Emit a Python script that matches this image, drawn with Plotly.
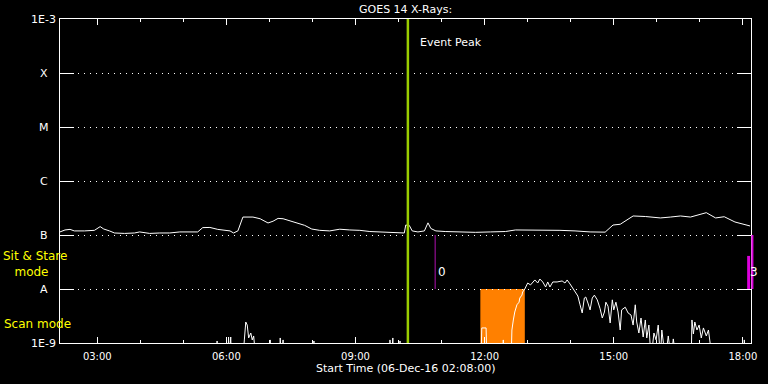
import plotly.graph_objects as go

DAY = "2016-12-06 "
FLOOR = 5e-10  # below plot floor (clipped at 1E-9)

# Long channel (upper trace)
up_t = ["02:08","02:15","02:22","02:28","02:42","02:56","03:04","03:09","03:17","03:24",
        "03:38","03:52","03:59","04:13","04:27","04:41","04:55","05:09","05:20","05:27",
        "05:37","05:48","05:58","06:05","06:10","06:16","06:23","06:30","06:37","06:47",
        "06:58","07:05","07:12","07:19","07:29","07:38","07:49","07:59","08:10","08:24",
        "08:38","08:52","09:06","09:20","09:34","09:55","10:08","10:10","10:15","10:19",
        "10:27","10:36","10:41","10:45","10:52","11:05","11:26","11:47","12:08","12:29",
        "12:43","13:03","13:24","13:45","14:06","14:27","14:48","14:59","15:09","15:27",
        "15:44","16:05","16:19","16:33","16:47","17:01","17:09","17:22","17:34","17:49",
        "18:03","18:10"]
up_v = [1.14e-7,1.24e-7,1.27e-7,1.19e-7,1.19e-7,1.22e-7,1.43e-7,1.29e-7,1.19e-7,1.09e-7,
        1.07e-7,1.09e-7,1.14e-7,1.07e-7,1.09e-7,1.09e-7,1.14e-7,1.16e-7,1.14e-7,1.37e-7,
        1.38e-7,1.27e-7,1.22e-7,1.19e-7,1.09e-7,1.19e-7,2.15e-7,2.18e-7,2.15e-7,2.00e-7,
        1.67e-7,1.80e-7,2.03e-7,2.00e-7,1.82e-7,1.68e-7,1.51e-7,1.29e-7,1.22e-7,1.19e-7,
        1.28e-7,1.24e-7,1.22e-7,1.16e-7,1.14e-7,1.09e-7,1.09e-7,1.53e-7,1.50e-7,1.19e-7,
        1.14e-7,1.19e-7,1.68e-7,1.32e-7,1.19e-7,1.16e-7,1.14e-7,1.12e-7,1.14e-7,1.16e-7,
        1.24e-7,1.24e-7,1.22e-7,1.22e-7,1.19e-7,1.14e-7,1.13e-7,1.53e-7,1.58e-7,2.25e-7,
        2.20e-7,2.07e-7,2.15e-7,2.25e-7,2.15e-7,2.45e-7,2.59e-7,2.07e-7,2.18e-7,1.74e-7,
        1.53e-7,1.47e-7]

# Short channel (lower trace)
F = FLOOR
lo_t = ["02:08","05:46","05:47","05:48","06:02","06:03","06:04","06:06","06:07",
        "06:23","06:25","06:27","06:29","06:31","06:34","06:36","06:38","06:41",
        "07:00","07:01","07:02","07:14","07:15","07:17","07:19","07:20",
        "08:01","08:02","08:03","09:47","09:48","09:50","09:52","09:53",
        "10:01","10:02","10:03","11:55","11:56","12:02","12:03",
        "12:25","12:26","12:27","12:37","12:38","12:40","12:42","12:45","12:48",
        "12:49","12:52","12:53","12:56","13:00","13:04","13:10","13:14","13:17",
        "13:21","13:25","13:28","13:31","13:35","13:41","13:48","13:52","13:55",
        "13:59","14:03","14:06","14:10","14:13","14:16","14:19","14:21","14:24",
        "14:27","14:30","14:33","14:37","14:41","14:44","14:47","14:49","14:52",
        "14:55","14:58","15:00","15:03","15:06","15:09","15:11","15:16","15:20",
        "15:24","15:27","15:30","15:32","15:35","15:38","15:41","15:44","15:46",
        "15:49","15:52","15:56","15:59","16:02","16:05","16:07","16:12","16:16",
        "16:20","16:23","16:27","16:48","16:49","16:51","16:53","16:56","16:59",
        "17:02","17:05","17:09","17:12","17:14","17:17","18:01","18:02","18:03",
        "18:11"]
lo_v = [F,F,1.09e-9,F,F,1.29e-9,F,1.29e-9,F,
        F,1.14e-9,2.45e-9,2.15e-9,1.24e-9,1.53e-9,1.14e-9,1.35e-9,F,
        F,1.14e-9,F,F,1.24e-9,F,1.14e-9,F,
        F,1.09e-9,F,F,1.14e-9,F,1.24e-9,F,
        F,1.09e-9,F,F,1.9e-9,1.9e-9,F,
        F,1.14e-9,F,F,1.74e-9,2.67e-9,3.75e-9,5.1e-9,5.7e-9,
        6.8e-9,7.7e-9,8.8e-9,1.0e-8,1.29e-8,1.19e-8,1.47e-8,1.29e-8,1.53e-8,
        1.35e-8,1.09e-8,1.35e-8,1.09e-8,1.35e-8,1.35e-8,1.41e-8,1.29e-8,1.47e-8,
        1.24e-8,1.04e-8,8.8e-9,7.4e-9,5.1e-9,3.6e-9,6.8e-9,7.1e-9,5.5e-9,
        4.1e-9,6.8e-9,7.7e-9,6.3e-9,4.3e-9,2.9e-9,3.75e-9,5.7e-9,4.8e-9,
        2.35e-9,6.3e-9,4.1e-9,5.7e-9,3.75e-9,1.74e-9,4.1e-9,4.6e-9,3.6e-9,
        3.3e-9,2.15e-9,5.1e-9,2.45e-9,1.53e-9,2.9e-9,1.29e-9,2.67e-9,1.24e-9,
        2.15e-9,F,1.53e-9,1.14e-9,2.15e-9,F,1.74e-9,F,1.35e-9,
        F,1.19e-9,F,F,2.67e-9,1.47e-9,2.45e-9,1.74e-9,2.15e-9,
        1.24e-9,1.9e-9,1.35e-9,1.74e-9,1.09e-9,F,F,1.14e-9,F,
        F]

level_vals = [1e-9, 1e-8, 1e-7, 1e-6, 1e-5, 1e-4, 1e-3]
level_text = ["1E-9", "A", "B", "C", "M", "X", "1E-3"]
level_exp = [-9, -8, -7, -6, -5, -4, -3]

event_peak = "10:13"
scan_start, scan_end = "11:54", "12:56"
mark0_t = "10:51"
mark2_t0, mark2_t1 = "18:06", "18:10"
x_start, x_end = "02:08:00", "18:11:20"

FONT = "DejaVu Sans"

fig = go.Figure()
fig.add_trace(go.Scatter(x=[DAY + t for t in up_t], y=up_v, mode="lines",
                         line=dict(color="white", width=1), showlegend=False))
fig.add_trace(go.Scatter(x=[DAY + t for t in lo_t], y=lo_v, mode="lines",
                         line=dict(color="white", width=1), showlegend=False))

# Orange scan-mode block
fig.add_shape(type="rect", xref="x", yref="y", x0=DAY + scan_start, x1=DAY + scan_end,
              y0=1e-9, y1=1e-8, fillcolor="#FF8000", line=dict(width=0), layer="below")
# Event peak line
fig.add_shape(type="line", xref="x", yref="paper", x0=DAY + event_peak, x1=DAY + event_peak,
              y0=0, y1=1, line=dict(color="#99CC00", width=2.5))
# Magenta markers
fig.add_shape(type="line", xref="x", yref="y", x0=DAY + mark0_t, x1=DAY + mark0_t,
              y0=1e-8, y1=1e-7, line=dict(color="#B010B0", width=1))
fig.add_shape(type="rect", xref="x", yref="y", x0=DAY + mark2_t0, x1=DAY + mark2_t1,
              y0=1e-8, y1=4.1e-8, fillcolor="#DD00DD", line=dict(width=0))
fig.add_shape(type="rect", xref="paper", yref="paper", x0=1.0005, x1=1.0035,
              y0=1/6, y1=2/6, fillcolor="#DD00DD", line=dict(width=0))

ann = []
for e, t in zip(level_exp, level_text):
    ann.append(dict(x=-0.0236, y=e, xref="paper", yref="y", text=t, showarrow=False,
                    xanchor="center", yanchor="middle",
                    font=dict(family=FONT, size=11, color="white")))
ann += [
    dict(x=0.518, y=0.926, xref="paper", yref="paper", text="Event Peak", showarrow=False,
         xanchor="left", yanchor="middle", font=dict(family=FONT, size=11, color="white")),
    dict(x=0.5445, y=0.219, xref="paper", yref="paper", text="0", showarrow=False,
         xanchor="left", yanchor="middle", font=dict(family=FONT, size=12, color="white")),
    dict(x=0.9975, y=0.219, xref="paper", yref="paper", text="3", showarrow=False,
         xanchor="left", yanchor="middle", borderpad=0,
         font=dict(family=FONT, size=12, color="white")),
    dict(x=-0.0844, y=0.244, xref="paper", yref="paper",
         text="Sit & Stare<br>\u00a0\u00a0\u00a0mode", showarrow=False, align="left",
         xanchor="left", yanchor="middle", borderpad=0,
         font=dict(family=FONT, size=12, color="#FFFF00")),
    dict(x=-0.0844, y=0.0586, xref="paper", yref="paper", text="Scan mode", showarrow=False,
         xanchor="left", yanchor="middle", font=dict(family=FONT, size=12, color="#FFFF00")),
    dict(x=0.5, y=-0.0772, xref="paper", yref="paper",
         text="Start Time (06-Dec-16 02:08:00)", showarrow=False,
         xanchor="center", yanchor="middle", font=dict(family=FONT, size=11, color="white")),
    dict(x=0.5, y=(343 - 9) / 324, xref="paper", yref="paper",
         text="GOES 14 X-Rays:", showarrow=False,
         xanchor="center", yanchor="middle", font=dict(family=FONT, size=11, color="white")),
]

fig.update_layout(
    width=768, height=384,
    margin=dict(l=60, r=17, t=19, b=41),
    paper_bgcolor="black", plot_bgcolor="black",
    font=dict(family=FONT, size=10, color="white"),
    annotations=ann,
    showlegend=False,
)
fig.update_xaxes(
    type="date", range=[DAY + x_start, DAY + x_end],
    tick0=DAY + "00:00", dtick=3 * 3600000, tickformat="%H:%M",
    ticks="inside", ticklen=6, tickcolor="white", tickwidth=1,
    showline=True, linecolor="white", linewidth=1, mirror="ticks",
    showgrid=False, zeroline=False, ticklabelstandoff=4,
    tickfont=dict(family=FONT, size=10, color="white"),
    minor=dict(dtick=3600000, tick0=DAY + "00:00", ticks="inside", ticklen=3,
               tickcolor="white", showgrid=False),
)
fig.update_yaxes(
    type="log", range=[-9, -3], tickvals=level_vals, showticklabels=False,
    ticks="inside", ticklen=14, tickcolor="white", tickwidth=1,
    showline=True, linecolor="white", linewidth=1, mirror="ticks",
    showgrid=True, gridcolor="white", gridwidth=1, griddash="1px,5px",
    zeroline=False,
)

fig.write_html("out.html",
               config={"displayModeBar": False},
               post_script="document.body.style.margin='0';"
                           "document.body.style.overflow='hidden';"
                           "document.body.style.background='black';")
